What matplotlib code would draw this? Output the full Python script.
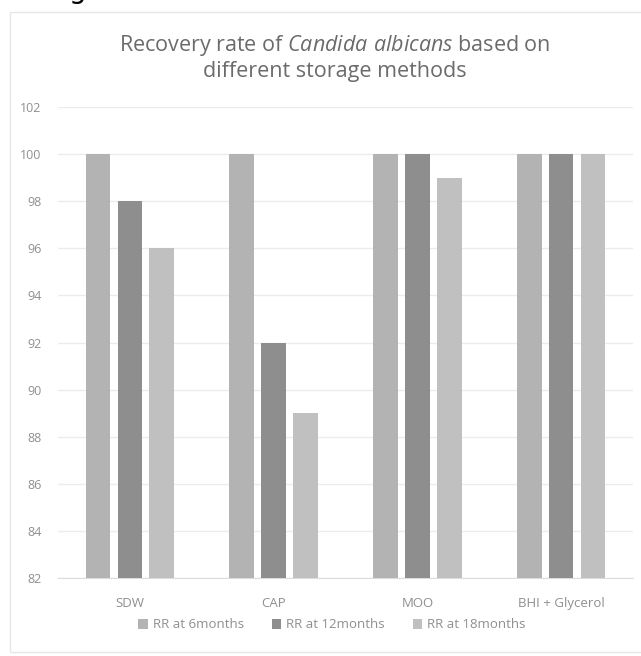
import matplotlib
matplotlib.use("Agg")
import matplotlib.pyplot as plt
from matplotlib.patches import Rectangle
import numpy as np

plt.rcParams['font.family'] = ['Open Sans', 'DejaVu Sans']
plt.rcParams['mathtext.fontset'] = 'custom'
plt.rcParams['mathtext.rm'] = 'Open Sans'
plt.rcParams['mathtext.it'] = 'Open Sans:italic'

categories = ["SDW", "CAP", "MOO", "BHI + Glycerol"]
series_names = ["RR at 6months", "RR at 12months", "RR at 18months"]
rr_6 = [100, 100, 100, 100]
rr_12 = [98, 92, 100, 100]
rr_18 = [96, 89, 99, 100]
y_ticks = [82, 84, 86, 88, 90, 92, 94, 96, 98, 100, 102]

colors = ["#b3b3b3", "#8e8e8e", "#c0c0c0"]
text_gray = "#8f8f8f"

fig = plt.figure(figsize=(6.41, 6.56), dpi=100)
fig.patch.set_facecolor("white")

# outer chart frame
fig.patches.append(Rectangle((10 / 641, 1 - 652 / 656), 640 / 641, 640 / 656,
                             transform=fig.transFigure, fill=False,
                             edgecolor="#e6e6e6", linewidth=1.0))

# tail of the heading above the chart
fig.text(77 / 641, 1 + 1.5 / 656, "g", ha="center", va="baseline",
         fontsize=20, color="black", family="DejaVu Sans")

ax = fig.add_axes([58 / 641, 1 - 578 / 656, 575 / 641, 471 / 656])

x = np.arange(len(categories))
offset = 0.222
width = 0.172
for i, (vals, name) in enumerate(zip([rr_6, rr_12, rr_18], series_names)):
    ax.bar(x + (i - 1) * offset, np.array(vals) - y_ticks[0], width=width,
           bottom=y_ticks[0], color=colors[i], label=name, zorder=3)

ax.set_xlim(-0.5, len(categories) - 0.5)
ax.set_ylim(y_ticks[0], y_ticks[-1])
ax.set_yticks(y_ticks)
ax.set_yticklabels([str(t) for t in y_ticks])
ax.set_xticks(x)
ax.set_xticklabels(categories)
ax.grid(axis="y", color="#ececec", linewidth=1.0, zorder=0)
for s in ["top", "right", "left"]:
    ax.spines[s].set_visible(False)
ax.spines["bottom"].set_color("#dcdcdc")
ax.tick_params(axis="both", length=0, colors=text_gray)
ax.tick_params(axis="y", labelsize=9, pad=12)
ax.tick_params(axis="x", labelsize=9.5, pad=14)

fig.text(335 / 641, 1 - 45 / 656,
         r"Recovery rate of $\it{Candida\ albicans}$ based on",
         ha="center", va="center", fontsize=15.5, color="#6b6b6b")
fig.text(335 / 641, 1 - 72 / 656, "different storage methods",
         ha="center", va="center", fontsize=15.5, color="#6b6b6b")

leg = fig.legend(loc="center", bbox_to_anchor=(332 / 641, 1 - 625 / 656),
                 ncol=3, frameon=False, fontsize=9.5, handlelength=0.7,
                 handleheight=0.7, handletextpad=0.4, columnspacing=2.1)
for t in leg.get_texts():
    t.set_color(text_gray)

fig.savefig("out.png", dpi=100)
